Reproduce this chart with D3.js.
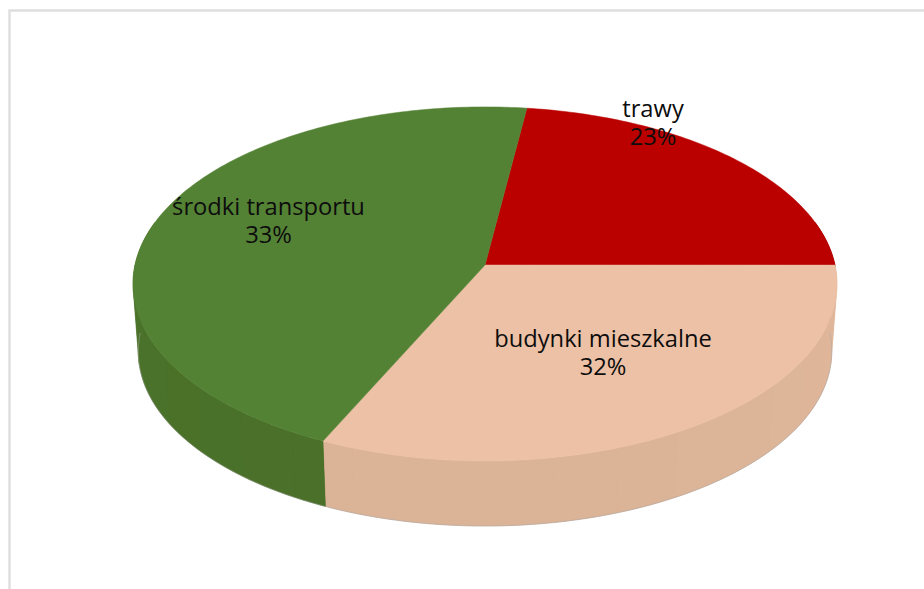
<!DOCTYPE html>
<html><head><meta charset="utf-8">
<script src="https://cdn.jsdelivr.net/npm/d3@7"></script>
<style>html,body{margin:0;padding:0;background:#fff;overflow:hidden}svg{display:block}</style>
</head><body><svg id="c" width="924" height="589"></svg>
<script>
const categories = ["trawy", "budynki mieszkalne", "środki transportu"];
const sliceShares = [22.9, 31.85, 45.25];
const labelValues = ["23%", "32%", "33%"];
const topColors = ["#bb0000", "#edc1a5", "#548235"];
const wallColors = ["#8f0000", "#dbb397", "#4a7029"];
const labelPos = [[653,117],[603,347],[268.5,215]];

const svg = d3.select("#c");
svg.append("path").attr("d","M9.5,589V10.5H924").attr("fill","none").attr("stroke","#dedede").attr("stroke-width",2.4);

const startDeg = 7.6;
const pie = d3.pie().sort(null).startAngle(startDeg*Math.PI/180).endAngle((startDeg+360)*Math.PI/180);
const arcs = pie(sliceShares);

const P = 0.107;
function project(a, s, dy){
  const u=Math.sin(a), v=Math.cos(a), w=1+P*v;
  return [485+350*s*u/w, 265+dy-175*s*v/w];
}
const topPt = a => project(a,1,0);
const botPt = a => project(a,0.985,68);
const line = d3.line();

// side wall, shaded in broad vertical bands
const g = svg.append("g");
const band = Math.PI/18;
arcs.forEach((d,i)=>{
  const lo=Math.max(d.startAngle,Math.PI*0.42), hi=Math.min(d.endAngle,Math.PI*1.58);
  if(hi<=lo) return;
  const n=Math.ceil((hi-lo)/(Math.PI/180));
  const pts=d3.range(n+1).map(k=>lo+(hi-lo)*k/n);
  const base=d3.color(wallColors[i]);
  g.append("path").attr("d",line(pts.map(topPt).concat(pts.slice().reverse().map(botPt)))+"Z").attr("fill",base.formatHex());
  let a0=lo;
  while(a0<hi-1e-6){
    const a1=Math.min(hi,(Math.floor(a0/band)+1)*band);
    const m=(a0+a1)/2;
    const t=Math.abs(m-Math.PI)/(Math.PI*0.58);
    const c=base.brighter(0.1*t*t).formatHex();
    const am=d3.range(0,9).map(k=>a0+(a1-a0)*k/8);
    g.append("path").attr("d",line(am.map(topPt).concat(am.slice().reverse().map(botPt)))+"Z")
      .attr("fill",c).attr("stroke",c).attr("stroke-width",0.4);
    a0=a1+1e-9;
  }
});
// lower rim
const rim=d3.range(0,121).map(k=>Math.PI*0.5+Math.PI*k/120);
g.append("path").attr("d",line(rim.map(botPt))).attr("fill","none").attr("stroke","#a8a8a8").attr("stroke-opacity",0.5).attr("stroke-width",1);

// top face
arcs.forEach((d,i)=>{
  const n=Math.ceil((d.endAngle-d.startAngle)/(Math.PI/180));
  const pts=[[485,265]].concat(d3.range(n+1).map(k=>topPt(d.startAngle+(d.endAngle-d.startAngle)*k/n)));
  svg.append("path").attr("d",line(pts)+"Z").attr("fill",topColors[i]).attr("stroke",topColors[i]).attr("stroke-width",0.5);
});

// labels
categories.forEach((c,i)=>{
  const t=svg.append("text").attr("text-anchor","middle").attr("font-family","'Open Sans'").attr("font-size",23.7).attr("fill","#0d0d0d");
  t.append("tspan").attr("x",labelPos[i][0]).attr("y",labelPos[i][1]).text(c);
  t.append("tspan").attr("x",labelPos[i][0]).attr("y",labelPos[i][1]+27.5).text(labelValues[i]);
});
</script></body></html>
